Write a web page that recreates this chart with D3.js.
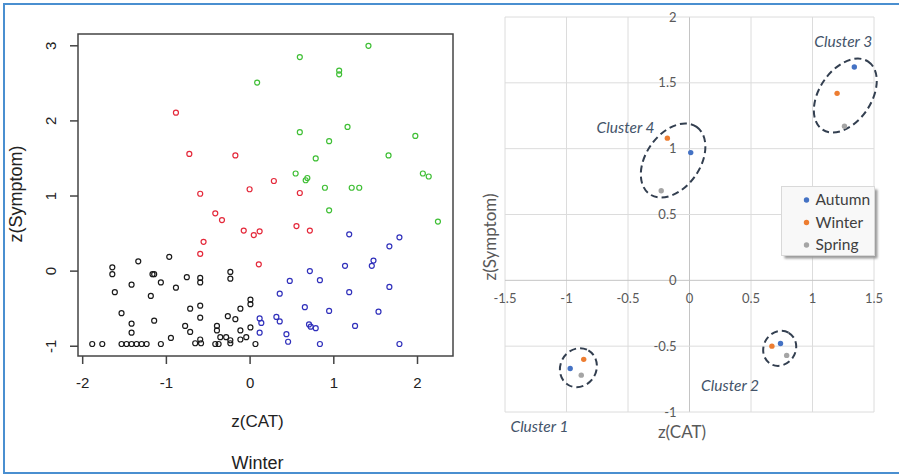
<!DOCTYPE html>
<html>
<head>
<meta charset="utf-8">
<script src="https://cdn.jsdelivr.net/npm/d3@7"></script>
<style>
  body { margin: 0; background: #fff; }
  svg { display: block; }
</style>
</head>
<body>
<svg id="chart" width="899" height="475"></svg>
<script>
// ---- left panel: winter k-means result, one array per cluster colour ----
const blackPts = [[-1.64,0.05],[-1.64,-0.04],[-1.33,0.13],[-0.96,0.19],[-1.16,-0.04],[-1.14,-0.04],
  [-1.61,-0.28],[-1.41,-0.18],[-1.06,-0.15],[-1.18,-0.33],[-0.88,-0.22],[-0.75,-0.08],[-0.59,-0.09],
  [-0.59,-0.15],[-0.23,-0.01],[-0.23,-0.10],[-1.53,-0.56],[-1.41,-0.70],[-1.41,-0.82],[-1.14,-0.66],
  [-0.71,-0.50],[-0.59,-0.46],[-0.59,-0.62],[-0.77,-0.73],[-0.71,-0.81],[-0.94,-0.89],[-0.59,-0.91],
  [-0.65,-0.96],[-0.58,-0.96],[-1.88,-0.97],[-1.76,-0.97],[-1.53,-0.97],[-1.47,-0.97],[-1.41,-0.97],
  [-1.35,-0.97],[-1.29,-0.97],[-1.23,-0.97],[-1.06,-0.97],[-0.39,-0.73],[-0.26,-0.60],[-0.17,-0.64],
  [-0.11,-0.50],[0.01,-0.38],[0.01,-0.44],[-0.39,-0.79],[-0.35,-0.88],[-0.28,-0.88],[-0.23,-0.92],
  [-0.23,-0.96],[-0.41,-0.97],[-0.37,-0.97],[-0.11,-0.79],[-0.11,-0.91],[-0.04,-0.88],[0.01,-0.75],
  [0.07,-0.97]];
const redPts = [[-0.88,2.11],[-0.72,1.56],[-0.17,1.54],[0.29,1.20],[0.00,1.09],[0.60,1.04],[-0.59,1.03],
  [-0.41,0.77],[-0.33,0.68],[-0.07,0.54],[0.05,0.48],[0.12,0.53],[0.56,0.60],[0.72,0.54],[-0.55,0.39],
  [-0.59,0.23],[0.11,0.09]];
const greenPts = [[1.42,3.00],[0.60,2.85],[0.09,2.51],[1.07,2.67],[1.07,2.62],[0.60,1.85],[1.17,1.92],
  [0.95,1.73],[0.79,1.50],[1.66,1.54],[1.98,1.80],[0.55,1.30],[0.69,1.24],[0.67,1.21],[0.90,1.11],
  [1.22,1.11],[1.31,1.11],[0.95,0.81],[2.07,1.30],[2.14,1.26],[2.25,0.66]];
const bluePts = [[1.19,0.49],[1.79,0.45],[1.67,0.33],[1.14,0.07],[1.48,0.14],[1.46,0.07],[0.72,0.00],
  [0.48,-0.13],[0.84,-0.12],[1.19,-0.28],[1.67,-0.21],[0.36,-0.30],[0.66,-0.48],[0.95,-0.53],[1.54,-0.54],
  [0.12,-0.63],[0.14,-0.69],[0.32,-0.61],[0.36,-0.67],[0.71,-0.71],[0.73,-0.74],[0.79,-0.76],[1.26,-0.73],
  [0.12,-0.82],[0.44,-0.84],[0.46,-0.94],[0.84,-0.97],[1.79,-0.97]];
const xTicksL = [-2, -1, 0, 1, 2];
const yTicksL = [-1, 0, 1, 2, 3];

// ---- right panel: cluster centroids by season ----
const seasons = ["Autumn", "Winter", "Spring"];
const autumnC = [[-0.97,-0.67],[0.74,-0.48],[1.34,1.62],[0.01,0.97]];
const winterC = [[-0.86,-0.60],[0.67,-0.50],[1.20,1.42],[-0.18,1.08]];
const springC = [[-0.88,-0.72],[0.79,-0.57],[1.26,1.17],[-0.23,0.68]];
const clusterNames = ["Cluster 1", "Cluster 2", "Cluster 3", "Cluster 4"];
const clusterLabelPos = [[-1.22,-1.11],[0.33,-0.80],[1.25,1.81],[-0.52,1.16]];
const xTicksR = [-1.5, -1, -0.5, 0, 0.5, 1, 1.5];
const yTicksR = [-1, -0.5, 0, 0.5, 1, 1.5, 2];

const svg = d3.select("#chart");

// blue frame round the figure
svg.append("path")
  .attr("d", "M899,4 H4 V473 H899")
  .attr("fill", "none").attr("stroke", "#4a8fd0").attr("stroke-width", 2);

// ================= left panel =================
const xL = d3.scaleLinear().domain([-2.05, 2.43]).range([78, 453]);
const yL = d3.scaleLinear().domain([-1.13, 3.157]).range([356, 34]);
const left = svg.append("g").attr("font-family", "Liberation Sans, Arial, sans-serif");

const groups = [
  {pts: blackPts, col: "#1a1a1a"},
  {pts: redPts, col: "#e4283a"},
  {pts: greenPts, col: "#3fbf35"},
  {pts: bluePts, col: "#3030bb"}
];
groups.forEach(g => {
  left.selectAll(null).data(g.pts).enter().append("circle")
    .attr("cx", d => xL(d[0])).attr("cy", d => yL(d[1]))
    .attr("r", 2.5).attr("fill", "none")
    .attr("stroke", g.col).attr("stroke-width", 1.2);
});

left.append("rect").attr("x", 78).attr("y", 34).attr("width", 375).attr("height", 322)
  .attr("fill", "none").attr("stroke", "#444").attr("stroke-width", 1.5);

const xAxL = left.append("g").attr("transform", "translate(0,356)")
  .call(d3.axisBottom(xL).tickValues(xTicksL).tickSize(8).tickPadding(13).tickFormat(d => String(d)));
xAxL.select(".domain").remove();
xAxL.selectAll("line").attr("stroke", "#444").attr("stroke-width", 1.5);
xAxL.selectAll("text").attr("font-size", 15).attr("fill", "#222").attr("font-family", null);

const yAxL = left.append("g");
yAxL.selectAll("line").data(yTicksL).enter().append("line")
  .attr("x1", 70).attr("x2", 78).attr("y1", d => yL(d)).attr("y2", d => yL(d))
  .attr("stroke", "#444").attr("stroke-width", 1.5);
yAxL.selectAll("text").data(yTicksL).enter().append("text")
  .attr("transform", d => `translate(51,${yL(d)}) rotate(-90)`)
  .attr("text-anchor", "middle").attr("dy", "0.35em")
  .attr("font-size", 15).attr("fill", "#222").text(d => String(d));

left.append("text").attr("x", 257.5).attr("y", 427).attr("text-anchor", "middle")
  .attr("font-size", 17).attr("fill", "#222").text("z(CAT)");
left.append("text").attr("x", 257.5).attr("y", 469).attr("text-anchor", "middle")
  .attr("font-size", 18).attr("fill", "#222").text("Winter");
left.append("text").attr("transform", "translate(22,194) rotate(-90)")
  .attr("text-anchor", "middle").attr("font-size", 18).attr("fill", "#222").text("z(Symptom)");

// ================= right panel =================
const xR = d3.scaleLinear().domain([-1.5, 1.5]).range([505, 874]);
const yR = d3.scaleLinear().domain([-1, 2]).range([412, 17]);
const right = svg.append("g").attr("font-family", "Lato, 'Open Sans', sans-serif");

right.selectAll(null).data(xTicksR).enter().append("line")
  .attr("x1", d => xR(d)).attr("x2", d => xR(d)).attr("y1", yR(2)).attr("y2", yR(-1))
  .attr("stroke", d => d === 0 ? "#c4c4c4" : "#dcdcdc").attr("stroke-width", 1);
right.selectAll(null).data(yTicksR).enter().append("line")
  .attr("x1", xR(-1.5)).attr("x2", xR(1.5)).attr("y1", d => yR(d)).attr("y2", d => yR(d))
  .attr("stroke", d => d === 0 ? "#c4c4c4" : "#dcdcdc").attr("stroke-width", 1);

right.selectAll(null).data(yTicksR).enter().append("text")
  .attr("x", xR(0) - 13).attr("y", d => yR(d)).attr("dy", "0.35em")
  .attr("text-anchor", "end").attr("font-size", 13).attr("fill", "#595959").text(d => String(d));
right.selectAll(null).data(xTicksR).enter().append("text")
  .attr("x", d => xR(d)).attr("y", yR(0) + 18).attr("dy", "0.35em")
  .attr("text-anchor", "middle").attr("font-size", 13).attr("fill", "#595959").text(d => String(d));

// dashed rings round each cluster, centred on the mean of its three centroids
const ringAxes = [[20, 18, 60], [18, 16, 60], [41, 26, 56], [41, 27, 55]];
clusterNames.forEach((name, i) => {
  const trio = [autumnC[i], winterC[i], springC[i]];
  const cx = xR(d3.mean(trio, d => d[0]));
  const cy = yR(d3.mean(trio, d => d[1]));
  const [a, b, ang] = ringAxes[i];
  right.append("ellipse")
    .attr("transform", `translate(${cx},${cy}) rotate(${-ang})`)
    .attr("rx", a).attr("ry", b)
    .attr("fill", "none").attr("stroke", "#333f50").attr("stroke-width", 2)
    .attr("stroke-dasharray", "7,4");
});

const seasonCols = ["#4472c4", "#ed7d31", "#a5a5a5"];
[autumnC, winterC, springC].forEach((arr, si) => {
  right.selectAll(null).data(arr).enter().append("circle")
    .attr("cx", d => xR(d[0])).attr("cy", d => yR(d[1]))
    .attr("r", 2.7).attr("fill", seasonCols[si]);
});

right.selectAll(null).data(clusterNames).enter().append("text")
  .attr("x", (d, i) => xR(clusterLabelPos[i][0]))
  .attr("y", (d, i) => yR(clusterLabelPos[i][1]))
  .attr("dy", "0.35em").attr("text-anchor", "middle")
  .attr("font-size", 15.5).attr("font-style", "italic").attr("fill", "#44546a").text(d => d);

right.append("text").attr("x", 682).attr("y", 432).attr("dy", "0.35em")
  .attr("text-anchor", "middle").attr("font-size", 17).attr("fill", "#595959").text("z(CAT)");
right.append("text").attr("transform", "translate(490,237) rotate(-90)").attr("dy", "0.35em")
  .attr("text-anchor", "middle").attr("font-size", 17).attr("fill", "#595959").text("z(Symptom)");

// legend with a soft drop shadow
const defs = svg.append("defs");
defs.append("filter").attr("id", "shadow").attr("x", "-20%").attr("y", "-20%")
  .attr("width", "140%").attr("height", "140%")
  .append("feGaussianBlur").attr("stdDeviation", 1.2);
const lg = right.append("g").attr("transform", "translate(781.5,186.5)");
lg.append("rect").attr("x", 3).attr("y", 3).attr("width", 93).attr("height", 69)
  .attr("fill", "#9a9a9a").attr("filter", "url(#shadow)");
lg.append("rect").attr("width", 93).attr("height", 69)
  .attr("fill", "#f8f8f8").attr("stroke", "#d9d9d9");
const rows = lg.selectAll(null).data(seasons).enter().append("g")
  .attr("transform", (d, i) => `translate(0,${13.5 + i * 22.5})`);
rows.append("circle").attr("cx", 25).attr("r", 2.7).attr("fill", (d, i) => seasonCols[i]);
rows.append("text").attr("x", 34).attr("dy", "0.35em").attr("font-size", 15.5)
  .attr("fill", "#404040").text(d => d);
</script>
</body>
</html>
